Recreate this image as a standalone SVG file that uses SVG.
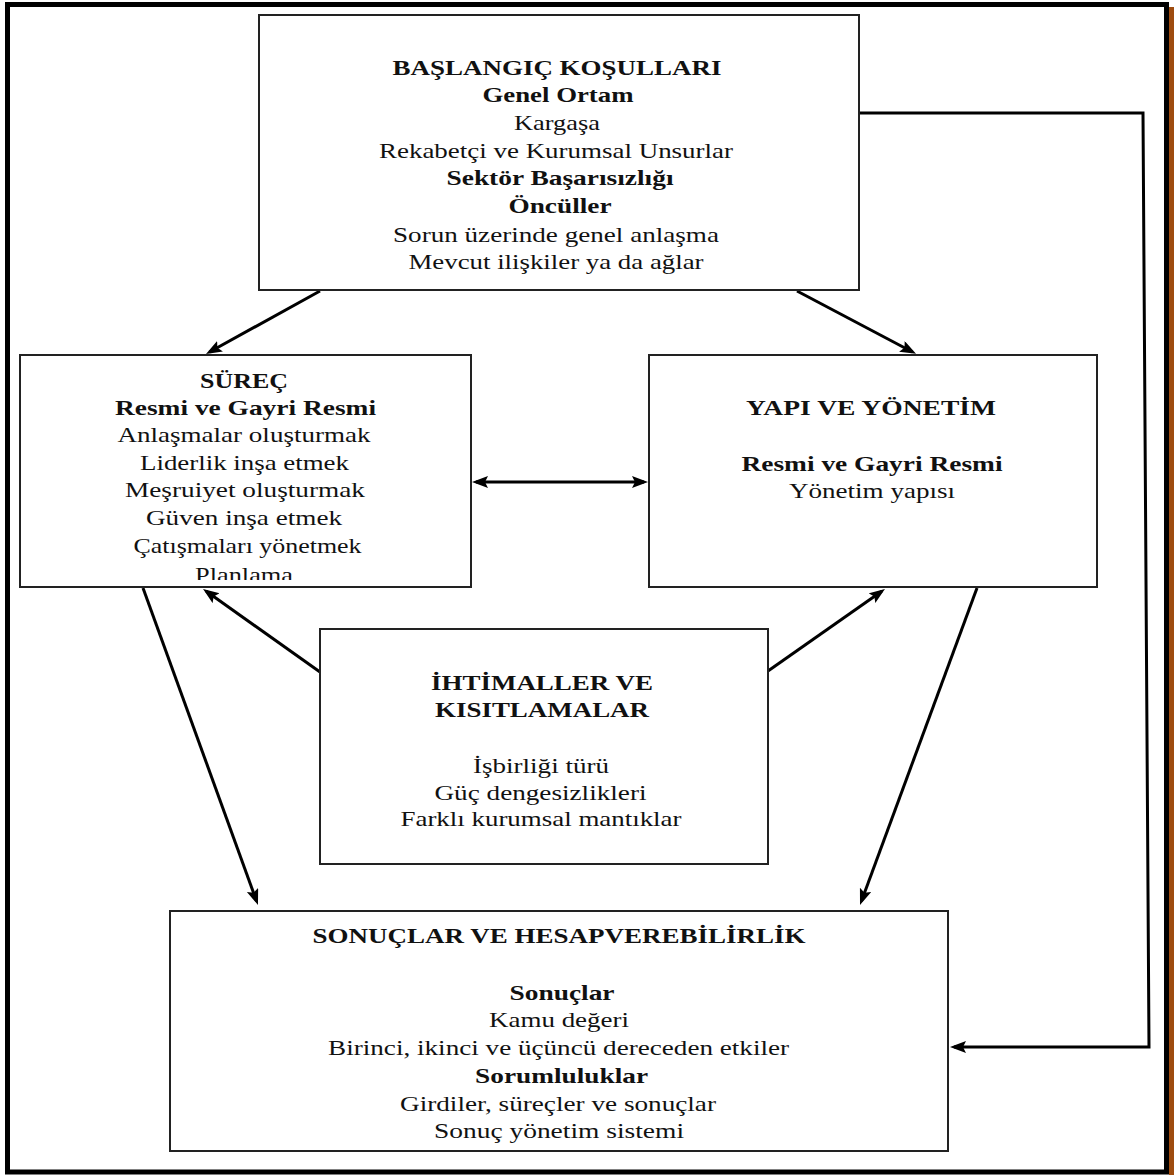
<svg xmlns="http://www.w3.org/2000/svg" width="1174" height="1175" viewBox="0 0 1174 1175">
  <style>
    .box { fill: #ffffff; stroke: #222222; stroke-width: 2; }
    .t { font-family: "Liberation Serif", "Times New Roman", serif; font-size: 21px; fill: #111111; text-anchor: middle; }
    .b { font-weight: bold; font-size: 22px; }
    .link { fill: none; stroke: #000000; stroke-width: 3; }
  </style>
  <defs>
    <marker id="arrow" markerUnits="userSpaceOnUse" markerWidth="18" markerHeight="14" refX="12" refY="6" orient="auto-start-reverse">
      <path d="M0,0 L16,6 L0,12 L3,6 Z" fill="#000000"/>
    </marker>
    <clipPath id="surec-clip">
      <rect x="20" y="355" width="451" height="225"/>
    </clipPath>
  </defs>

  <!-- page frame -->
  <rect x="0" y="0" width="1174" height="1175" fill="#ffffff"/>
  <rect x="7.5" y="4.5" width="1159" height="1167.5" fill="none" stroke="#000000" stroke-width="5"/>
  <rect x="1169" y="7" width="5" height="1168" fill="#9e4c10"/>

  <!-- connectors -->
  <g id="connectors">
    <line class="link" x1="320" y1="291" x2="209.5" y2="352" marker-end="url(#arrow)"/>
    <line class="link" x1="797" y1="291" x2="912.5" y2="352" marker-end="url(#arrow)"/>
    <line class="link" x1="476" y1="482" x2="644" y2="482" marker-start="url(#arrow)" marker-end="url(#arrow)"/>
    <line class="link" x1="320" y1="672" x2="206.3" y2="591.3" marker-end="url(#arrow)"/>
    <line class="link" x1="768" y1="671" x2="881.7" y2="591.3" marker-end="url(#arrow)"/>
    <line class="link" x1="143" y1="588" x2="256.6" y2="901.2" marker-end="url(#arrow)"/>
    <line class="link" x1="977" y1="588" x2="861.4" y2="901.2" marker-end="url(#arrow)"/>
    <polyline class="link" points="860,113 1143,113 1149,1047 954,1047" marker-end="url(#arrow)"/>
  </g>

  <!-- initial conditions -->
  <g id="node-baslangic">
    <rect class="box" x="259" y="15" width="600" height="275"/>
    <text class="t b" x="557" y="75" textLength="329" lengthAdjust="spacingAndGlyphs">BAŞLANGIÇ KOŞULLARI</text>
    <text class="t b" x="558" y="102" textLength="151" lengthAdjust="spacingAndGlyphs">Genel Ortam</text>
    <text class="t" x="557" y="130" textLength="86" lengthAdjust="spacingAndGlyphs">Kargaşa</text>
    <text class="t" x="556" y="158" textLength="354" lengthAdjust="spacingAndGlyphs">Rekabetçi ve Kurumsal Unsurlar</text>
    <text class="t b" x="560" y="185" textLength="227" lengthAdjust="spacingAndGlyphs">Sektör Başarısızlığı</text>
    <text class="t b" x="560" y="213" textLength="103" lengthAdjust="spacingAndGlyphs">Öncüller</text>
    <text class="t" x="556" y="242" textLength="326" lengthAdjust="spacingAndGlyphs">Sorun üzerinde genel anlaşma</text>
    <text class="t" x="556" y="269" textLength="295" lengthAdjust="spacingAndGlyphs">Mevcut ilişkiler ya da ağlar</text>
  </g>

  <!-- process -->
  <g id="node-surec">
    <rect class="box" x="20" y="355" width="451" height="232"/>
    <text class="t b" x="244" y="388" textLength="88" lengthAdjust="spacingAndGlyphs">SÜREÇ</text>
    <text class="t b" x="245.5" y="415" textLength="261" lengthAdjust="spacingAndGlyphs">Resmi ve Gayri Resmi</text>
    <text class="t" x="244" y="442" textLength="253" lengthAdjust="spacingAndGlyphs">Anlaşmalar oluşturmak</text>
    <text class="t" x="244.5" y="470" textLength="209" lengthAdjust="spacingAndGlyphs">Liderlik inşa etmek</text>
    <text class="t" x="245" y="497" textLength="240" lengthAdjust="spacingAndGlyphs">Meşruiyet oluşturmak</text>
    <text class="t" x="244" y="525" textLength="196" lengthAdjust="spacingAndGlyphs">Güven inşa etmek</text>
    <text class="t" x="247.5" y="553" textLength="228" lengthAdjust="spacingAndGlyphs">Çatışmaları yönetmek</text>
    <text class="t" x="244" y="582" textLength="98" lengthAdjust="spacingAndGlyphs" clip-path="url(#surec-clip)">Planlama</text>
  </g>

  <!-- structure and governance -->
  <g id="node-yapi">
    <rect class="box" x="649" y="355" width="448" height="232"/>
    <text class="t b" x="871" y="415" textLength="250" lengthAdjust="spacingAndGlyphs">YAPI VE YÖNETİM</text>
    <text class="t b" x="872" y="471" textLength="261" lengthAdjust="spacingAndGlyphs">Resmi ve Gayri Resmi</text>
    <text class="t" x="872" y="498" textLength="166" lengthAdjust="spacingAndGlyphs">Yönetim yapısı</text>
  </g>

  <!-- contingencies and constraints -->
  <g id="node-ihtimaller">
    <rect class="box" x="320" y="629" width="448" height="235"/>
    <text class="t b" x="542" y="690" textLength="222" lengthAdjust="spacingAndGlyphs">İHTİMALLER VE</text>
    <text class="t b" x="542" y="717" textLength="214" lengthAdjust="spacingAndGlyphs">KISITLAMALAR</text>
    <text class="t" x="541" y="773" textLength="136" lengthAdjust="spacingAndGlyphs">İşbirliği türü</text>
    <text class="t" x="540.5" y="800" textLength="212" lengthAdjust="spacingAndGlyphs">Güç dengesizlikleri</text>
    <text class="t" x="541" y="826" textLength="281" lengthAdjust="spacingAndGlyphs">Farklı kurumsal mantıklar</text>
  </g>

  <!-- outcomes and accountability -->
  <g id="node-sonuclar">
    <rect class="box" x="170" y="911" width="778" height="240"/>
    <text class="t b" x="559" y="943" textLength="493" lengthAdjust="spacingAndGlyphs">SONUÇLAR VE HESAPVEREBİLİRLİK</text>
    <text class="t b" x="562" y="1000" textLength="105" lengthAdjust="spacingAndGlyphs">Sonuçlar</text>
    <text class="t" x="559" y="1027" textLength="140" lengthAdjust="spacingAndGlyphs">Kamu değeri</text>
    <text class="t" x="558.6" y="1055" textLength="461" lengthAdjust="spacingAndGlyphs">Birinci, ikinci ve üçüncü dereceden etkiler</text>
    <text class="t b" x="561.6" y="1083" textLength="173" lengthAdjust="spacingAndGlyphs">Sorumluluklar</text>
    <text class="t" x="558" y="1111" textLength="316" lengthAdjust="spacingAndGlyphs">Girdiler, süreçler ve sonuçlar</text>
    <text class="t" x="559" y="1138" textLength="250" lengthAdjust="spacingAndGlyphs">Sonuç yönetim sistemi</text>
  </g>
</svg>
